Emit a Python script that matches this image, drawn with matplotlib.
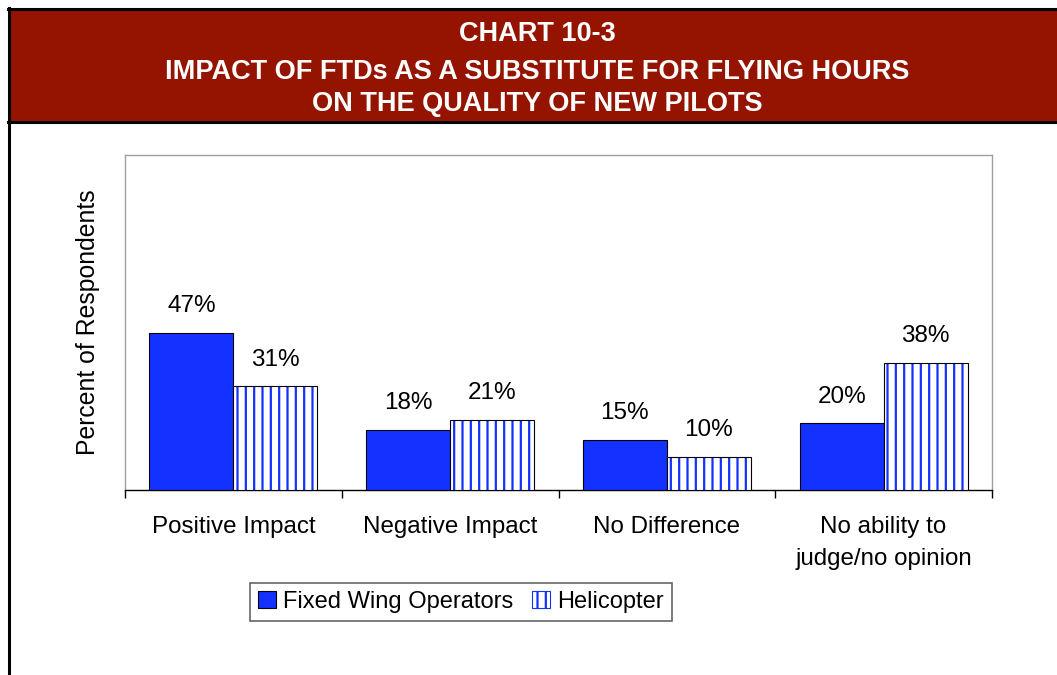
import numpy as np
import matplotlib
matplotlib.use('Agg')
import matplotlib.pyplot as plt
from matplotlib.patches import Rectangle, Patch
from matplotlib.lines import Line2D

categories = ['Positive Impact', 'Negative Impact', 'No Difference', 'No ability to\njudge/no opinion']
fixed_wing = [47, 18, 15, 20]
helicopter = [31, 21, 10, 38]
series_names = ['Fixed Wing Operators', 'Helicopter']
title_lines = ['CHART 10-3', 'IMPACT OF FTDs AS A SUBSTITUTE FOR FLYING HOURS', 'ON THE QUALITY OF NEW PILOTS']

plt.rcParams['font.family'] = ['Liberation Sans', 'DejaVu Sans']
plt.rcParams['hatch.linewidth'] = 1.6

W, H = 1057, 675
blue = '#1432ff'
red = '#941400'

fig = plt.figure(figsize=(W/100, H/100), dpi=100)

def fx(px):
    return px / W

def fy(py):
    return 1 - py / H

# header band and page border
fig.patches.append(Rectangle((fx(9), fy(122)), 1, (122-9)/H, transform=fig.transFigure,
                             facecolor=red, edgecolor='none', zorder=0))
fig.add_artist(Line2D([fx(8), 1], [fy(9), fy(9)], color='black', lw=2.2, transform=fig.transFigure))
fig.add_artist(Line2D([fx(8), 1], [fy(122), fy(122)], color='black', lw=2.2, transform=fig.transFigure))
fig.add_artist(Line2D([fx(9), fx(9)], [fy(8), 0], color='black', lw=2.2, transform=fig.transFigure))

for txt, py in zip(title_lines, [34, 72, 104]):
    fig.text(fx(537), fy(py), txt, color='white', fontsize=19.5, fontweight='bold',
             ha='center', va='center')

ax = fig.add_axes([fx(125), fy(490), fx(992-125), (490-155)/H])
x = np.arange(len(categories))
w = 0.3875
ax.bar(x - w/2, fixed_wing, w, color=blue, edgecolor='black', linewidth=0.8, zorder=3)
ax.bar(x + w/2, helicopter, w, color='white', edgecolor=blue, hatch='||', linewidth=0, zorder=3)
ax.bar(x + w/2, helicopter, w, fill=False, edgecolor='black', linewidth=0.8, zorder=4)

for xs, vals in [(x - w/2, fixed_wing), (x + w/2, helicopter)]:
    for xi, v in zip(xs, vals):
        ax.annotate('%d%%' % v, (xi, v), xytext=(0, 19), textcoords='offset points',
                    ha='center', va='center', fontsize=17.5)

ax.set_xlim(-0.5, len(categories) - 0.5)
ax.set_ylim(0, 100)
ax.set_yticks([])
ax.set_xticks(np.arange(len(categories) + 1) - 0.5)
ax.set_xticklabels([])
ax.tick_params(axis='x', which='major', length=6, width=1, color='black', direction='out')
ax.set_xticks(x, minor=True)
ax.set_xticklabels(categories, minor=True, fontsize=17.4, linespacing=1.55, va='top')
ax.tick_params(axis='x', which='minor', length=0, pad=19)

for s in ['top', 'right', 'left']:
    ax.spines[s].set_color('#a0a0a0')
    ax.spines[s].set_linewidth(1)
ax.spines['bottom'].set_color('black')
ax.spines['bottom'].set_linewidth(1)

ax.set_ylabel('Percent of Respondents', fontsize=17.8)
ax.yaxis.set_label_coords(-0.029, 0.5)

handles = [Patch(facecolor=blue, edgecolor='black', linewidth=0.8),
           Patch(facecolor='white', edgecolor=blue, hatch='||', linewidth=0.8)]
leg = fig.legend(handles, series_names, loc='center', bbox_to_anchor=(fx(461), fy(602)),
                 ncol=2, fontsize=17, frameon=True, fancybox=False, edgecolor='#404040',
                 handlelength=0.75, handleheight=0.75, handletextpad=0.3, columnspacing=0.8,
                 borderpad=0.35)
leg.get_frame().set_linewidth(1.2)

fig.savefig('out.png', dpi=100)
